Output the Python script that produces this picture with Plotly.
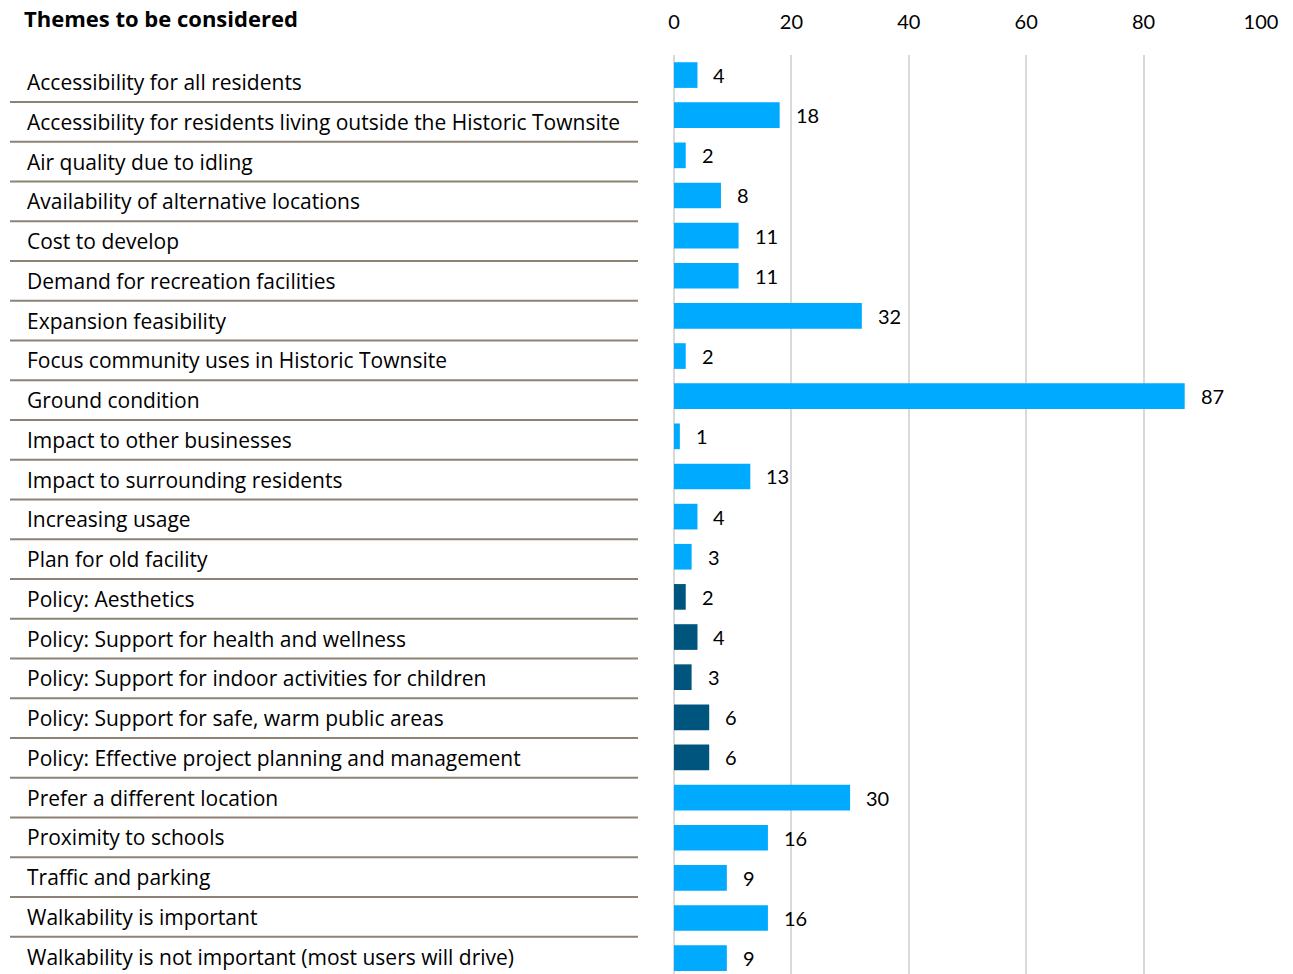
import plotly.graph_objects as go

categories = [
    "Accessibility for all residents",
    "Accessibility for residents living outside the Historic Townsite",
    "Air quality due to idling",
    "Availability of alternative locations",
    "Cost to develop",
    "Demand for recreation facilities",
    "Expansion feasibility",
    "Focus community uses in Historic Townsite",
    "Ground condition",
    "Impact to other businesses",
    "Impact to surrounding residents",
    "Increasing usage",
    "Plan for old facility",
    "Policy: Aesthetics",
    "Policy: Support for health and wellness",
    "Policy: Support for indoor activities for children",
    "Policy: Support for safe, warm public areas",
    "Policy: Effective project planning and management",
    "Prefer a different location",
    "Proximity to schools",
    "Traffic and parking",
    "Walkability is important",
    "Walkability is not important (most users will drive)",
]
values = [4, 18, 2, 8, 11, 11, 32, 2, 87, 1, 13, 4, 3, 2, 4, 3, 6, 6, 30, 16, 9, 16, 9]
is_policy = [c.startswith("Policy:") for c in categories]
tick_vals = [0, 20, 40, 60, 80, 100]

LIGHT = "#00AAFF"
DARK = "#00557F"
FONT = "Open Sans"
NUMFONT = "Lato"
W, H = 1293, 974
L, R, T, B = 674, 32, 55, 0
plot_w = W - L - R
row_px = 40.14
n = len(categories)
y_bottom = -0.5 + (H - T - B) / row_px

# left-hand table rows use a slightly tighter pitch than the bars
table_pitch = 39.75
label_top_px = 82
line_top_px = 102


def px_to_y(py):
    return (py - T) / row_px - 0.5


colors = [DARK if p else LIGHT for p in is_policy]
idx = list(range(n))

fig = go.Figure(go.Bar(
    x=values, y=idx, orientation="h",
    marker=dict(color=colors, line=dict(width=0)),
    width=0.64, hoverinfo="x+y",
))

annotations = []
for i, (c, v) in enumerate(zip(categories, values)):
    annotations.append(dict(x=v, y=i, xref="x", yref="y", text=str(v), showarrow=False,
                            xanchor="left", xshift=14, font=dict(size=20, color="black", family=NUMFONT)))
    annotations.append(dict(x=(25 - L) / plot_w, y=px_to_y(label_top_px + i * table_pitch),
                            xref="paper", yref="y", text=c, showarrow=False,
                            xanchor="left", yanchor="middle",
                            font=dict(size=21, color="black", family=FONT)))

shapes = []
for i in range(n - 1):
    yy = px_to_y(line_top_px + i * table_pitch)
    shapes.append(dict(type="line", xref="paper", yref="y",
                       x0=(10 - L) / plot_w, x1=(638 - L) / plot_w,
                       y0=yy, y1=yy,
                       line=dict(color="#8C8374", width=2)))

fig.update_layout(
    width=W, height=H,
    margin=dict(l=L, r=R, t=T, b=B, pad=0),
    paper_bgcolor="white", plot_bgcolor="white",
    showlegend=False,
    title=dict(text="<b>Themes to be considered</b>", x=24 / W, xanchor="left",
               y=1 - 19 / H, yanchor="middle", font=dict(size=22, color="black", family=FONT)),
    xaxis=dict(side="top", range=[0, 100], tickvals=tick_vals, showgrid=True,
               gridcolor="#D9D9D9", gridwidth=2, zeroline=True, zerolinecolor="#D9D9D9",
               zerolinewidth=2, showline=False, ticks="", ticklabelstandoff=21,
               tickfont=dict(size=20, color="black", family=NUMFONT), fixedrange=True),
    yaxis=dict(autorange=False, range=[y_bottom, -0.5], showticklabels=False,
               showgrid=False, zeroline=False, ticks="", fixedrange=True),
    annotations=annotations,
    shapes=shapes,
)

fig.write_html("out.html")
